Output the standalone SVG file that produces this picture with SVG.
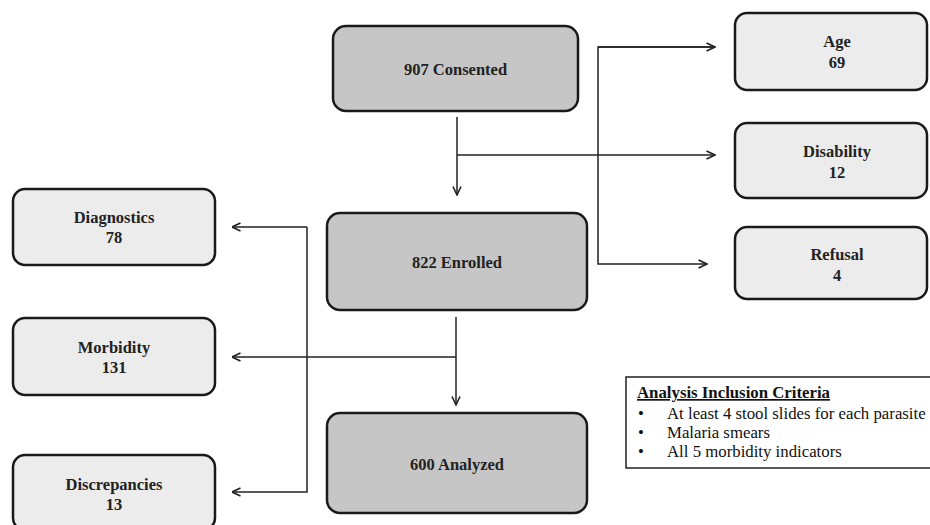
<svg xmlns="http://www.w3.org/2000/svg" width="930" height="525" viewBox="0 0 930 525">
<defs>
<marker id="arr" viewBox="0 0 10 10" refX="9.5" refY="5" markerWidth="10" markerHeight="10" markerUnits="userSpaceOnUse" orient="auto">
<path d="M1,1 L9.5,5 L1,9" fill="none" stroke="#222" stroke-width="1.6"/>
</marker>
</defs>
<style>
.main{fill:#c6c6c6;stroke:#1a1a1a;stroke-width:2.5}
.side{fill:#ececec;stroke:#1a1a1a;stroke-width:2.5}
.t{font-family:"Liberation Serif",serif;font-weight:bold;font-size:16.5px;fill:#222;text-anchor:middle}
.c{fill:none;stroke:#222;stroke-width:1.5}
.n{font-family:"Liberation Serif",serif;font-size:16.8px;fill:#111}
</style>
<rect width="930" height="525" fill="#fff"/>
<g id="connectors">
<path class="c" d="M457,117 V195" marker-end="url(#arr)"/>
<path class="c" d="M457,155 H715" marker-end="url(#arr)"/>
<path class="c" d="M715,47 H598 V264 H707" marker-end="url(#arr)"/>
<path class="c" d="M598,47 H715" marker-end="url(#arr)"/>
<path class="c" d="M456,317 V405" marker-end="url(#arr)"/>
<path class="c" d="M456,357 H232" marker-end="url(#arr)"/>
<path class="c" d="M307,227 V492 H232" marker-end="url(#arr)"/>
<path class="c" d="M307,227 H232" marker-end="url(#arr)"/>
</g>
<g id="consented">
<rect class="main" x="333" y="26" width="245" height="85" rx="13"/>
<text class="t" x="455.5" y="75">907 Consented</text>
</g>
<g id="enrolled">
<rect class="main" x="327" y="213" width="260" height="97" rx="13"/>
<text class="t" x="457" y="268">822 Enrolled</text>
</g>
<g id="analyzed">
<rect class="main" x="327" y="413" width="260" height="100" rx="13"/>
<text class="t" x="457" y="470">600 Analyzed</text>
</g>
<g id="age">
<rect class="side" x="735" y="13" width="192" height="77" rx="12"/>
<text class="t" x="837" y="47">Age</text>
<text class="t" x="837" y="68">69</text>
</g>
<g id="disability">
<rect class="side" x="735" y="123" width="192" height="75" rx="12"/>
<text class="t" x="837" y="157">Disability</text>
<text class="t" x="837" y="178">12</text>
</g>
<g id="refusal">
<rect class="side" x="735" y="227" width="192" height="72" rx="12"/>
<text class="t" x="837" y="260">Refusal</text>
<text class="t" x="837" y="281">4</text>
</g>
<g id="diagnostics">
<rect class="side" x="13" y="189" width="202" height="76" rx="12"/>
<text class="t" x="114" y="223">Diagnostics</text>
<text class="t" x="114" y="243">78</text>
</g>
<g id="morbidity">
<rect class="side" x="13" y="318" width="202" height="77" rx="12"/>
<text class="t" x="114" y="353">Morbidity</text>
<text class="t" x="114" y="373">131</text>
</g>
<g id="discrepancies">
<rect class="side" x="13" y="455" width="202" height="75" rx="12"/>
<text class="t" x="114" y="490">Discrepancies</text>
<text class="t" x="114" y="510">13</text>
</g>
<g id="criteria">
<rect x="626" y="377" width="310" height="91" fill="#fff" stroke="#222" stroke-width="1.5"/>
<text class="n" x="637" y="398" font-weight="bold" font-size="16.5px" text-decoration="underline">Analysis Inclusion Criteria</text>
<text class="n" x="638" y="419">•</text>
<text class="n" x="667" y="419">At least 4 stool slides for each parasite</text>
<text class="n" x="638" y="438">•</text>
<text class="n" x="667" y="438">Malaria smears</text>
<text class="n" x="638" y="457">•</text>
<text class="n" x="667" y="457">All 5 morbidity indicators</text>
</g>
</svg>
